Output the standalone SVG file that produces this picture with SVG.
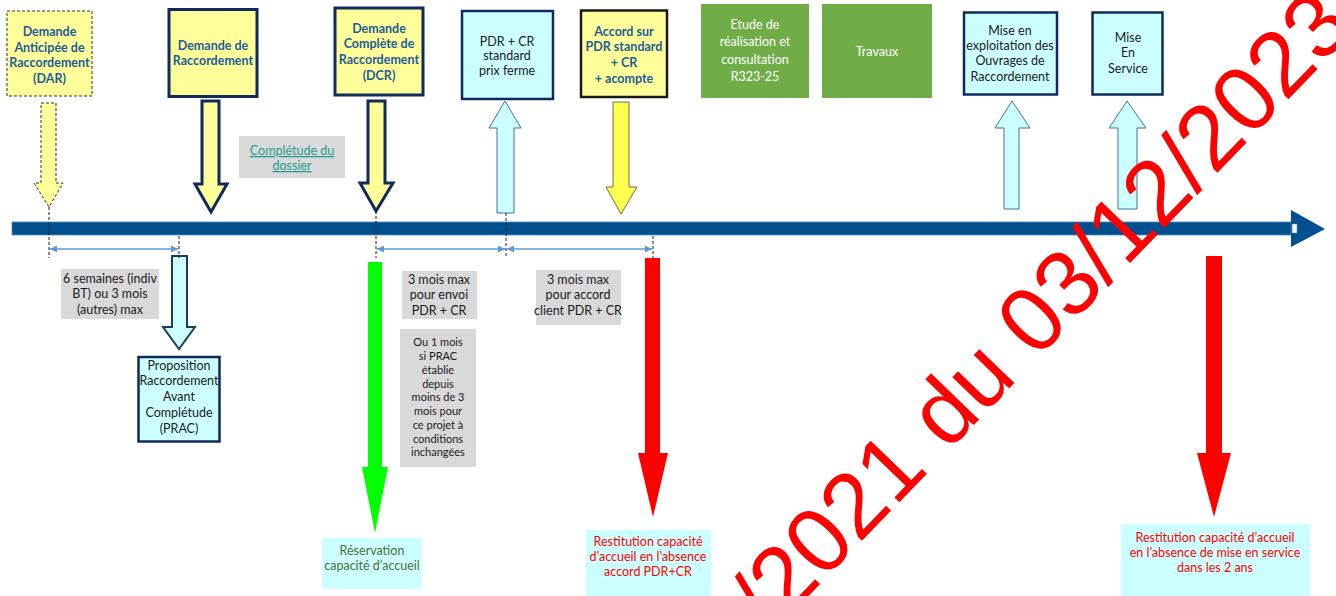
<svg xmlns="http://www.w3.org/2000/svg" width="1336" height="596" viewBox="0 0 1336 596">
<defs>
<style>
.t{font-family:Lato,"Liberation Sans",sans-serif;font-size:12.5px;text-anchor:middle}
.b{font-weight:bold;fill:#1E5B9A}
.r{fill:#1a1a1a}
.w{fill:#ffffff}
.sm{font-size:11px;fill:#1a1a1a}
.yel{fill:#FFFF99;stroke:#102A5C;stroke-width:3}
.cy{fill:#CCFFFF;stroke:#102A5C;stroke-width:2.5}
.grn{fill:#70AD47}
.gry{fill:#D9D9D9}
.dash{stroke:#1a1a1a;stroke-width:1;stroke-dasharray:3,2;fill:none}
.dim{stroke:#5B9BD5;stroke-width:1.3;fill:none;marker-start:url(#ah);marker-end:url(#ah)}
.up{fill:#CCFFFF;stroke:#41719C;stroke-width:1}
</style>
<marker id="ah" viewBox="0 0 10 10" refX="10" refY="5" markerWidth="8" markerHeight="7" markerUnits="userSpaceOnUse" orient="auto-start-reverse">
<path d="M0,0 L10,5 L0,10 z" fill="#5B9BD5"/>
</marker>
</defs>
<rect width="1336" height="596" fill="#ffffff"/>

<g id="timeline">
<rect x="12" y="222" width="1279" height="13" fill="#00508F" stroke="#4F87BD" stroke-width="0.8"/>
<polygon points="1291,210 1325,229 1291,247" fill="#00508F"/>
<rect x="1292" y="224" width="5" height="9" fill="#ffffff" stroke="#4F87BD" stroke-width="0.6"/>
</g>

<g id="connectors">
<polygon points="41,103 56,103 56,183 63,183 49,207 34,183 41,183" fill="#FFFF99" stroke="#333" stroke-width="1" stroke-dasharray="3,2"/>
<polygon points="202,101 219,101 219,184 227,184 211,212 195,184 202,184" class="yel" stroke-width="2.5"/>
<polygon points="368,101 385,101 385,183 393,183 376,211 360,183 368,183" class="yel" stroke-width="2.5"/>
<polygon points="497,213 514,213 514,128 521,128 505,101 489,128 497,128" class="up"/>
<polygon points="613,102 629,102 629,187 637,187 621,214 606,187 613,187" fill="#FFFF4D" stroke="#6E6E50" stroke-width="1"/>
<polygon points="1004,209 1019,209 1019,128 1030,128 1012,101 995,128 1004,128" class="up"/>
<polygon points="1118,209 1137,209 1137,128 1146,128 1127,101 1109,128 1118,128" class="up"/>
<polygon points="172,256 187,256 187,327 195,327 179,349 163,327 172,327" fill="#CCFFFF" stroke="#1F3864" stroke-width="2"/>
<polygon points="368,262 382,262 382,467 388,467 375,533 362,467 368,467" fill="#00FF00"/>
<polygon points="645,258 660,258 660,453 668,453 653,517 638,453 645,453" fill="#FF0000"/>
<polygon points="1206,256 1222,256 1222,453 1231,453 1214,517 1197,453 1206,453" fill="#FF0000"/>
<line x1="49" y1="207" x2="49" y2="258" class="dash"/>
<line x1="179" y1="236" x2="179" y2="258" class="dash"/>
<line x1="376" y1="211" x2="376" y2="258" class="dash"/>
<line x1="506" y1="213" x2="506" y2="258" class="dash"/>
<line x1="653" y1="236" x2="653" y2="258" class="dash"/>
<line x1="50" y1="249" x2="178" y2="249" class="dim"/>
<line x1="377" y1="249" x2="505" y2="249" class="dim"/>
<line x1="507" y1="249" x2="652" y2="249" class="dim"/>
</g>

<g id="dar">
<rect x="7" y="11" width="85" height="85" fill="#FFFF99" stroke="#333" stroke-width="1" stroke-dasharray="3,2"/>
<text class="t b"><tspan x="49.5" y="36">Demande</tspan><tspan x="49.5" y="52">Anticipée de</tspan><tspan x="49.5" y="67">Raccordement</tspan><tspan x="49.5" y="83">(DAR)</tspan></text>
</g>
<g id="dr">
<rect x="169" y="9.5" width="88" height="87" class="yel"/>
<text class="t b"><tspan x="213" y="50">Demande de</tspan><tspan x="213" y="65">Raccordement</tspan></text>
</g>
<g id="dcr">
<rect x="335" y="8" width="88" height="87" class="yel"/>
<text class="t b"><tspan x="379" y="33">Demande</tspan><tspan x="379" y="48">Complète de</tspan><tspan x="379" y="64">Raccordement</tspan><tspan x="379" y="80">(DCR)</tspan></text>
</g>
<g id="completude">
<rect x="239" y="136" width="106" height="42" class="gry"/>
<text class="t" fill="#1F9B91" text-decoration="underline"><tspan x="292" y="155">Complétude du</tspan><tspan x="292" y="170">dossier</tspan></text>
</g>
<g id="pdr">
<rect x="462" y="11" width="91" height="88" class="cy"/>
<text class="t r"><tspan x="507" y="46">PDR + CR</tspan><tspan x="507" y="60">standard</tspan><tspan x="507" y="75">prix ferme</tspan></text>
</g>
<g id="accord">
<rect x="581" y="10.5" width="86" height="86.5" fill="#FFFF99" stroke="#1a1a1a" stroke-width="2.5"/>
<text class="t b"><tspan x="624" y="36">Accord sur</tspan><tspan x="624" y="51">PDR standard</tspan><tspan x="624" y="67">+ CR</tspan><tspan x="624" y="83">+ acompte</tspan></text>
</g>
<g id="etude">
<rect x="701" y="4" width="108" height="94" class="grn"/>
<text class="t w"><tspan x="755" y="29">Etude de</tspan><tspan x="755" y="46">réalisation et</tspan><tspan x="755" y="64">consultation</tspan><tspan x="755" y="81">R323-25</tspan></text>
</g>
<g id="travaux">
<rect x="822" y="4" width="110" height="94" class="grn"/>
<text class="t w" x="877" y="56">Travaux</text>
</g>
<g id="exploitation">
<rect x="964" y="12.5" width="93" height="82" class="cy"/>
<text class="t r"><tspan x="1010" y="35">Mise en</tspan><tspan x="1010" y="50">exploitation des</tspan><tspan x="1010" y="65">Ouvrages de</tspan><tspan x="1010" y="81">Raccordement</tspan></text>
</g>
<g id="miseservice">
<rect x="1092.5" y="12.5" width="70" height="82" class="cy"/>
<text class="t r"><tspan x="1128" y="42">Mise</tspan><tspan x="1128" y="57">En</tspan><tspan x="1128" y="73">Service</tspan></text>
</g>
<g id="delai1">
<rect x="61" y="269" width="98" height="50" class="gry"/>
<text class="t r"><tspan x="110" y="283">6 semaines (indiv</tspan><tspan x="110" y="298">BT) ou 3 mois</tspan><tspan x="110" y="314">(autres) max</tspan></text>
</g>
<g id="prac">
<rect x="138.5" y="357" width="81" height="84.5" class="cy"/>
<text class="t r" font-size="12"><tspan x="179" y="370">Proposition</tspan><tspan x="179" y="385">Raccordement</tspan><tspan x="179" y="401">Avant</tspan><tspan x="179" y="417">Complétude</tspan><tspan x="179" y="433">(PRAC)</tspan></text>
</g>
<g id="delai2">
<rect x="402" y="271" width="75" height="48" class="gry"/>
<text class="t r"><tspan x="439" y="284">3 mois max</tspan><tspan x="439" y="299">pour envoi</tspan><tspan x="439" y="315">PDR + CR</tspan></text>
</g>
<g id="delai2b">
<rect x="400" y="329" width="76" height="138" class="gry"/>
<text class="t sm"><tspan x="438" y="346">Ou 1 mois</tspan><tspan x="438" y="360">si PRAC</tspan><tspan x="438" y="374">établie</tspan><tspan x="438" y="388">depuis</tspan><tspan x="438" y="401">moins de 3</tspan><tspan x="438" y="415">mois pour</tspan><tspan x="438" y="429">ce projet à</tspan><tspan x="438" y="443">conditions</tspan><tspan x="438" y="456">inchangées</tspan></text>
</g>
<g id="delai3">
<rect x="536" y="270" width="85" height="55" class="gry"/>
<text class="t r"><tspan x="578" y="284">3 mois max</tspan><tspan x="578" y="299">pour accord</tspan><tspan x="578" y="315">client PDR + CR</tspan></text>
</g>
<g id="reservation">
<rect x="322" y="538" width="100" height="51" fill="#CCFFFF"/>
<text class="t" fill="#4D7038"><tspan x="372" y="555">Réservation</tspan><tspan x="372" y="570">capacité d’accueil</tspan></text>
</g>
<g id="restitution1">
<rect x="586" y="530" width="125" height="66" fill="#CCFFFF"/>
<text class="t" fill="#FF0000" font-size="12"><tspan x="648" y="546">Restitution capacité</tspan><tspan x="648" y="561">d’accueil en l’absence</tspan><tspan x="648" y="576">accord PDR+CR</tspan></text>
</g>
<g id="restitution2">
<rect x="1121" y="524" width="189" height="72" fill="#CCFFFF"/>
<text class="t" fill="#FF0000" font-size="12"><tspan x="1215" y="542">Restitution capacité d’accueil</tspan><tspan x="1215" y="557">en l’absence de mise en service</tspan><tspan x="1215" y="572">dans les 2 ans</tspan></text>
</g>

<text transform="translate(770,636) rotate(-46)" font-family="'Liberation Sans',Arial,sans-serif" font-size="92" fill="#FF0000">/2021 du 03/12/2023</text>
</svg>
